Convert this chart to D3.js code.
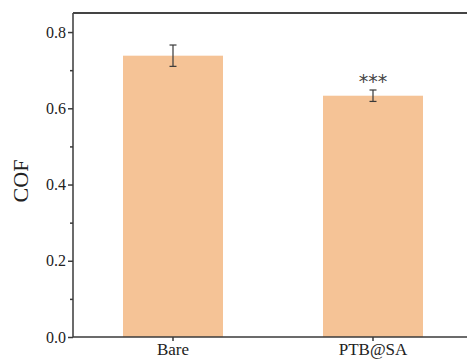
<!DOCTYPE html>
<html>
<head>
<meta charset="utf-8">
<script src="https://cdn.jsdelivr.net/npm/d3@7"></script>
<style>
  body { margin: 0; background: #fff; }
  svg { display: block; }
  svg text { font-family: "Liberation Serif", "Times New Roman", serif; }
</style>
</head>
<body>
<svg id="chart" width="467" height="359"></svg>
<script>
// data
const categories = ['Bare', 'PTB@SA'];
const cofMean = [0.738, 0.633];
const cofErr = [0.028, 0.015];
const significance = ['', '***'];
const yTicks = [0.0, 0.2, 0.4, 0.6, 0.8];
const yMinorTicks = [0.1, 0.3, 0.5, 0.7];

const W = 467, H = 359;
const margin = { top: 13, right: 0, bottom: 22, left: 73 };
const svg = d3.select('#chart');
const g = svg.append('g').attr('transform', 'translate(' + margin.left + ',' + margin.top + ')');
const width = W - margin.left - margin.right;
const height = H - margin.top - margin.bottom;

const x = d3.scaleBand().domain(categories).range([0, 400]).paddingInner(0.5).paddingOuter(0.25);
const y = d3.scaleLinear().domain([0, 0.85]).range([height, 0]);

const barColor = '#f5c396';
const axisColor = '#3a3a3a';

// bars
g.selectAll('rect.bar').data(categories).enter().append('rect')
  .attr('class', 'bar')
  .attr('x', d => x(d))
  .attr('width', x.bandwidth())
  .attr('y', (d, i) => y(cofMean[i]))
  .attr('height', (d, i) => y(0) - y(cofMean[i]))
  .attr('fill', barColor);

// error bars
const eb = g.selectAll('g.err').data(categories).enter().append('g').attr('class', 'err')
  .attr('stroke', axisColor).attr('stroke-width', 1.2);
eb.append('line')
  .attr('x1', d => x(d) + x.bandwidth() / 2).attr('x2', d => x(d) + x.bandwidth() / 2)
  .attr('y1', (d, i) => y(cofMean[i] + cofErr[i])).attr('y2', (d, i) => y(cofMean[i] - cofErr[i]));
eb.append('line')
  .attr('x1', d => x(d) + x.bandwidth() / 2 - 3.5).attr('x2', d => x(d) + x.bandwidth() / 2 + 3.5)
  .attr('y1', (d, i) => y(cofMean[i] + cofErr[i])).attr('y2', (d, i) => y(cofMean[i] + cofErr[i]));
eb.append('line')
  .attr('x1', d => x(d) + x.bandwidth() / 2 - 3.5).attr('x2', d => x(d) + x.bandwidth() / 2 + 3.5)
  .attr('y1', (d, i) => y(cofMean[i] - cofErr[i])).attr('y2', (d, i) => y(cofMean[i] - cofErr[i]));

// significance stars
g.selectAll('text.sig').data(categories).enter().append('text')
  .attr('class', 'sig')
  .attr('x', d => x(d) + x.bandwidth() / 2)
  .attr('y', (d, i) => y(cofMean[i] + cofErr[i]) - 2)
  .attr('text-anchor', 'middle')
  .attr('fill', '#444')
  .style('font-family', 'DejaVu Sans, sans-serif')
  .attr('font-size', 19)
  .text((d, i) => significance[i]);

// y axis
const yAxis = g.append('g')
  .call(d3.axisLeft(y).tickValues(yTicks).tickFormat(d3.format('.1f')).tickSize(5).tickPadding(2));
g.append('g')
  .call(d3.axisLeft(y).tickValues(yMinorTicks).tickFormat('').tickSize(3))
  .call(s => s.select('.domain').remove());
yAxis.select('.domain').attr('d', 'M0,' + height + 'V0');

// x axis
const xAxis = g.append('g').attr('transform', 'translate(0,' + height + ')')
  .call(d3.axisBottom(x).tickSize(4).tickPadding(2));
xAxis.select('.domain').attr('d', 'M0,0H' + width);

// top frame
g.append('line').attr('x1', 0).attr('x2', width).attr('y1', 0).attr('y2', 0)
  .attr('stroke', '#444').attr('stroke-width', 2);

g.selectAll('.domain, .tick line').attr('stroke', axisColor).attr('stroke-width', 1.5);
yAxis.selectAll('.tick text').attr('font-size', 16).attr('fill', '#222');
xAxis.selectAll('.tick text').attr('font-size', 17).attr('fill', '#222');

// y label
svg.append('text')
  .attr('transform', 'translate(28,' + (margin.top + height / 2 + 6) + ') rotate(-90)')
  .attr('text-anchor', 'middle')
  .attr('font-size', 22)
  .attr('fill', '#222')
  .text('COF');
</script>
</body>
</html>
